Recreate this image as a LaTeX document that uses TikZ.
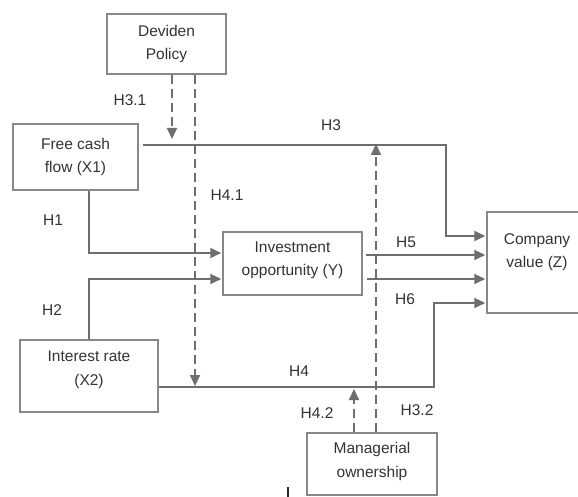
\documentclass[tikz,border=0pt]{standalone}
\usepackage{fontspec}
\setmainfont{Liberation Sans}
\usetikzlibrary{arrows.meta,calc}
\definecolor{ln}{HTML}{6E6E6E}
\definecolor{bx}{HTML}{888888}
\definecolor{tx}{HTML}{333333}
\begin{document}
\begin{tikzpicture}[x=1pt,y=-1pt,
  box/.style={draw=bx,line width=1.5pt,align=center,text=tx,font=\fontsize{15.5}{23.5}\selectfont,inner sep=0pt},
  lbl/.style={text=tx,font=\fontsize{15.5}{18}\selectfont,inner sep=0pt},
  btxt/.style={lbl,align=center,font=\fontsize{15.5}{23.5}\selectfont},
  arr/.style={draw=ln,line width=1.8pt,-{Triangle[length=11pt,width=10pt]}},
  dsh/.style={arr,dash pattern=on 9pt off 5pt}]
\useasboundingbox (0,0) rectangle (578,497);
\fill[white] (0,0) rectangle (578,497);
\clip (0,0) rectangle (578,497);
% boxes
\node[box,minimum width=119,minimum height=60] (dp) at (166.5,44) {Deviden\\Policy};
\node[box,minimum width=125,minimum height=66] (fcf) at (75.5,157) {Free cash\\flow (X1)};
\node[box,minimum width=138,minimum height=72] (ir) at (89,376) {};
\node[btxt] (irt) at (89,370) {Interest rate\\(X2)};
\node[box,minimum width=139,minimum height=63] (inv) at (292.5,263.5) {};
\node[btxt] (invt) at (292.5,260.5) {Investment\\opportunity (Y)};
\node[box,minimum width=100,minimum height=101] (cv) at (537,262.5) {};
\node[btxt] (cvt) at (537,252) {Company\\value (Z)};
\node[box,minimum width=130,minimum height=62] (mo) at (372,464) {};
\node[btxt] (mot) at (372,461.5) {Managerial\\ownership};
% solid connectors
\draw[arr,shorten >=1pt] ($(fcf.east)+(4,-12)$) -| (446,236) -- (cv.west |- 0,236);
\draw[arr,shorten >=1pt] ($(fcf.south)+(13.5,0)$) |- (inv.west |- 0,253);
\draw[arr,shorten >=1pt] (ir.north) |- (inv.west |- 0,279);
\draw[arr,shorten >=1pt] ($(inv.east |- 0,255)+(3,0)$) -- (cv.west |- 0,255);
\draw[arr,shorten >=1pt] ($(inv.east |- 0,279)+(4,0)$) -- (cv.west |- 0,279);
\draw[arr,shorten >=1pt] (ir.east |- 0,387) -| (434,303) -- (cv.west |- 0,303);
% dashed moderators
\coordinate (e31) at (172,139);
\coordinate (e41) at (195,386);
\coordinate (e32) at (376,144);
\coordinate (e42) at (354,389);
\draw[dsh] (dp.south -| e31) -- (e31);
\draw[dsh] (dp.south -| e41) -- (e41);
\draw[dsh] (mo.north -| e32) -- (e32);
\draw[dsh] (mo.north -| e42) -- (e42);
% labels
\node[lbl] (l31) at (130,100) {H3.1};
\node[lbl] (l41) at (227,195) {H4.1};
\node[lbl] (l3) at (331,125) {H3};
\node[lbl] (l1) at (53,220) {H1};
\node[lbl] (l2) at (52,310) {H2};
\node[lbl] (l5) at (406,242) {H5};
\node[lbl] (l6) at (405,299) {H6};
\node[lbl] (l4) at (299,371) {H4};
\node[lbl] (l42) at (317,413) {H4.2};
\node[lbl] (l32) at (417,410) {H3.2};
% stray mark
\draw[line width=1.3pt,black!85] (288,487) -- (288,497);
\end{tikzpicture}
\end{document}
